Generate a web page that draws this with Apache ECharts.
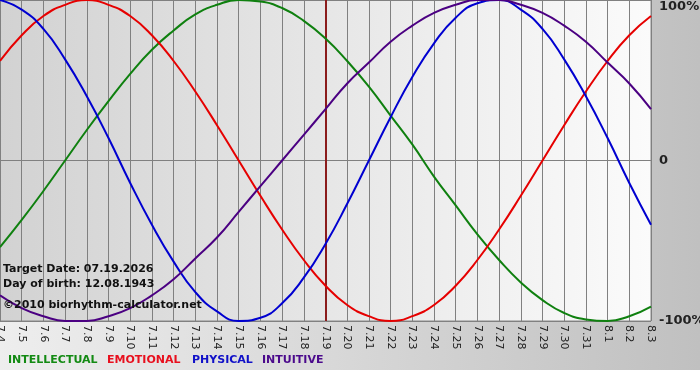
<!DOCTYPE html>
<html><head><meta charset="utf-8">
<script src="https://cdn.jsdelivr.net/npm/echarts@6/dist/echarts.min.js"></script>
<style>
html,body{margin:0;padding:0;background:#fff;}
#c{width:700px;height:380px;background:linear-gradient(to bottom, transparent 0, transparent 370px, #fff 370px),linear-gradient(to right,#eeeeee,#c0c0c0);}
</style></head>
<body><div id="c"></div>
<script>
const days = ['7.4','7.5','7.6','7.7','7.8','7.9','7.10','7.11','7.12','7.13','7.14','7.15','7.16','7.17','7.18','7.19','7.20','7.21','7.22','7.23','7.24','7.25','7.26','7.27','7.28','7.29','7.30','7.31','8.1','8.2','8.3'];
const intellectual = [-54,-37,-19,0,19,37,54,69,81,91,97,100,99,95,87,76,62,46,28,10,-10,-28,-46,-62,-76,-87,-95,-99,-100,-97,-91];
const emotional = [62,78,90,97,100,97,90,78,62,43,22,0,-22,-43,-62,-78,-90,-97,-100,-97,-90,-78,-62,-43,-22,0,22,43,62,78,90];
const physical = [100,94,82,63,40,14,-14,-40,-63,-82,-94,-100,-98,-89,-73,-52,-27,0,27,52,73,89,98,100,94,82,63,40,14,-14,-40];
const intuitive = [-84,-92,-97,-100,-100,-97,-92,-84,-74,-61,-48,-32,-16,0,16,32,48,61,74,84,92,97,100,100,97,92,84,74,61,48,32];
const targetDay = '7.19';
const infoLines = ['Target Date: 07.19.2026','Day of birth: 12.08.1943','©2010 biorhythm-calculator.net'];
const legendItems = [['INTELLECTUAL','#138a13'],['EMOTIONAL','#e8101e'],['PHYSICAL','#1010c8'],['INTUITIVE','#4b0a8c']];

const chart = echarts.init(document.getElementById('c'), null, {renderer:'canvas'});
const font = 'Verdana, "DejaVu Sans", sans-serif';
function mk(name, data, color){
  return {name, type:'line', data, smooth:true, symbol:'none', lineStyle:{color, width:2}, itemStyle:{color}, z:3};
}
const series = [
  mk('INTELLECTUAL', intellectual, '#0f800f'),
  mk('EMOTIONAL', emotional, '#e60000'),
  mk('PHYSICAL', physical, '#0000d0'),
  mk('INTUITIVE', intuitive, '#4b0082')
];
series[0].markLine = {silent:true, symbol:'none', label:{show:false}, lineStyle:{color:'#8b1c1c', width:2, type:'solid'}, data:[{xAxis:targetDay}], z:2};

const legendX = [8,107,192,262];
const graphics = [];
infoLines.forEach((t,i)=>{
  graphics.push({type:'text', left:3, top:[264,279,300][i], z:10, style:{text:t, fill:'#111', font:'bold 11px '+font}});
});
legendItems.forEach(([t,c],i)=>{
  graphics.push({type:'text', left:legendX[i], top:355, z:10, style:{text:t, fill:c, font:'bold 11px '+font}});
});

chart.setOption({
  animation:false,
  backgroundColor:'transparent',
  grid:{left:0, right:49, top:0, bottom:59, show:true, borderColor:'#888', borderWidth:1, containLabel:false, outerBoundsMode:'none',
    backgroundColor:{type:'linear', x:0, y:0, x2:1, y2:0, colorStops:[{offset:0,color:'#d2d2d2'},{offset:1,color:'#fbfbfb'}]}},
  xAxis:{type:'category', data:days, boundaryGap:false,
    axisLine:{show:false}, axisTick:{show:false},
    axisLabel:{interval:0, rotate:-90, margin:4, color:'#222', fontFamily:font, fontSize:11},
    splitLine:{show:true, interval:0, lineStyle:{color:'#808080', width:1}}},
  yAxis:{type:'value', min:-100, max:100, interval:100, position:'right',
    axisLine:{show:false}, axisTick:{show:false},
    axisLabel:{margin:8, color:'#222', fontFamily:font, fontSize:13, fontWeight:'bold',
      formatter:v=> v===0?'0':v+'%', verticalAlignMaxLabel:'top'},
    splitLine:{show:true, lineStyle:{color:'#808080', width:1}}},
  series,
  graphic:graphics
});
</script></body></html>
